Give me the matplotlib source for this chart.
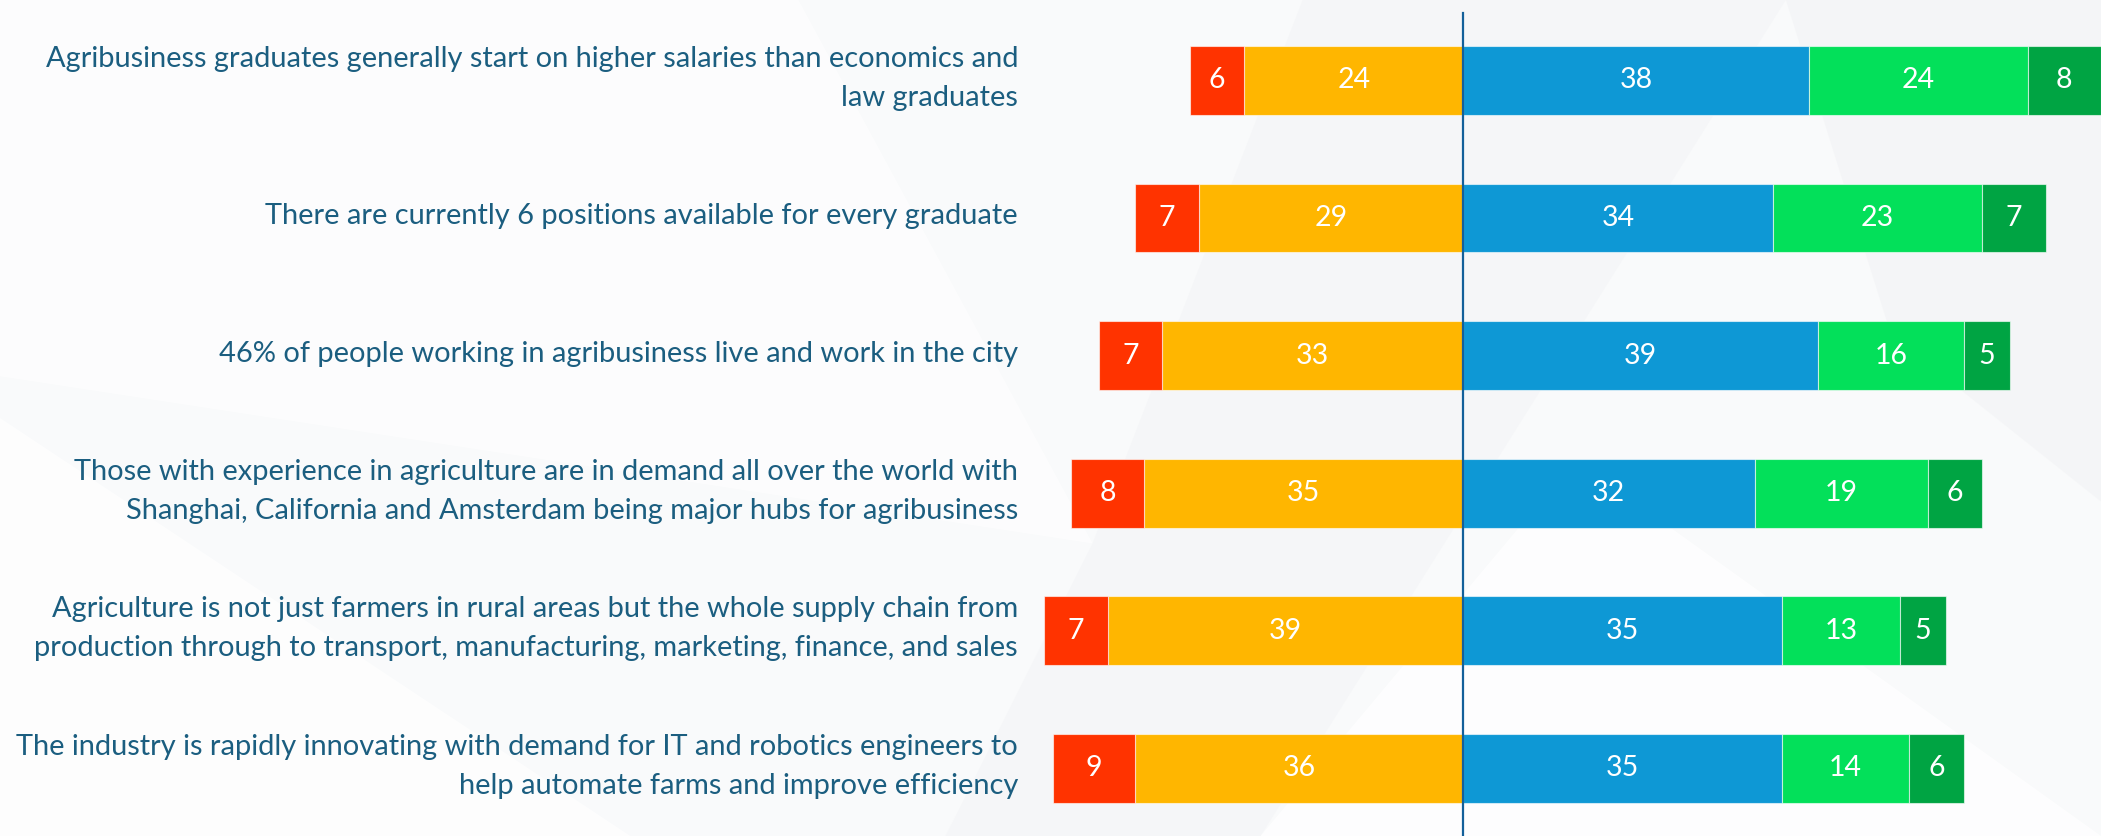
import matplotlib
matplotlib.use("Agg")
import matplotlib.pyplot as plt
from matplotlib.patches import Polygon

categories = [
    "Agribusiness graduates generally start on higher salaries than economics and\nlaw graduates",
    "There are currently 6 positions available for every graduate",
    "46% of people working in agribusiness live and work in the city",
    "Those with experience in agriculture are in demand all over the world with\nShanghai, California and Amsterdam being major hubs for agribusiness",
    "Agriculture is not just farmers in rural areas but the whole supply chain from\nproduction through to transport, manufacturing, marketing, finance, and sales",
    "The industry is rapidly innovating with demand for IT and robotics engineers to\nhelp automate farms and improve efficiency",
]
red_vals = [6, 7, 7, 8, 7, 9]
yellow_vals = [24, 29, 33, 35, 39, 36]
blue_vals = [38, 34, 39, 32, 35, 35]
lgreen_vals = [24, 23, 16, 19, 13, 14]
dgreen_vals = [8, 7, 5, 6, 5, 6]

C_RED = "#FF3300"
C_YEL = "#FFB600"
C_BLU = "#0E98D5"
C_LGR = "#03E05A"
C_DGR = "#00A443"
C_TXT = "#1B5E80"
C_LINE = "#13609A"

fam = ["Lato", "DejaVu Sans"]

fig = plt.figure(figsize=(21.01, 8.36), dpi=100)
fig.patch.set_facecolor("#F9FAFB")
ax = fig.add_axes([0, 0, 1, 1])
ax.set_facecolor("none")
ax.set_xlim(-160.6, 70.03)
ax.set_ylim(5.491, -0.584)
ax.axis("off")

# subtle background facets (decorative)
bg = fig.add_axes([0, 0, 1, 1], zorder=-1)
bg.set_xlim(0, 1); bg.set_ylim(0, 1); bg.axis("off")
polys = [
    ([(0.0, 1.0), (0.38, 1.0), (0.52, 0.35), (0.0, 0.55)], "#FFFFFF", 0.6),
    ([(0.52, 0.35), (0.62, 1.0), (0.85, 1.0), (0.6, 0.0), (0.45, 0.0)], "#F3F4F6", 0.6),
    ([(0.0, 0.0), (0.0, 0.5), (0.3, 0.0)], "#FFFFFF", 0.7),
    ([(0.85, 1.0), (1.0, 1.0), (1.0, 0.4), (0.9, 0.6)], "#F2F3F5", 0.6),
    ([(0.6, 0.0), (0.75, 0.45), (1.0, 0.0)], "#FFFFFF", 0.8),
]
for pts, col, a in polys:
    bg.add_patch(Polygon(pts, closed=True, facecolor=col, edgecolor="none", alpha=a))

ys = list(range(len(categories)))
h = 0.5
ekw = dict(edgecolor=(1, 1, 1, 0.6), linewidth=0.8)
left_yel = [-v for v in yellow_vals]
left_red = [-(r + y) for r, y in zip(red_vals, yellow_vals)]
ax.barh(ys, yellow_vals, left=left_yel, height=h, color=C_YEL, **ekw)
ax.barh(ys, red_vals, left=left_red, height=h, color=C_RED, **ekw)
ax.barh(ys, blue_vals, left=0, height=h, color=C_BLU, **ekw)
lg_left = blue_vals
ax.barh(ys, lgreen_vals, left=lg_left, height=h, color=C_LGR, **ekw)
dg_left = [b + g for b, g in zip(blue_vals, lgreen_vals)]
ax.barh(ys, dgreen_vals, left=dg_left, height=h, color=C_DGR, **ekw)

nkw = dict(ha="center", va="center", color="white", fontsize=20.5, family=fam)
for i in ys:
    ax.text(left_red[i] + red_vals[i] / 2, i, str(red_vals[i]), **nkw)
    ax.text(left_yel[i] + yellow_vals[i] / 2, i, str(yellow_vals[i]), **nkw)
    ax.text(blue_vals[i] / 2, i, str(blue_vals[i]), **nkw)
    ax.text(lg_left[i] + lgreen_vals[i] / 2, i, str(lgreen_vals[i]), **nkw)
    ax.text(dg_left[i] + dgreen_vals[i] / 2, i, str(dgreen_vals[i]), **nkw)

for i, c in enumerate(categories):
    ax.text(-48.85, i - 0.015, c, ha="right", va="center", color=C_TXT, fontsize=20.9,
            family=fam, linespacing=1.62)

ax.plot([0, 0], [-0.49, 5.6], color=C_LINE, lw=1.6, zorder=5, clip_on=False)

fig.savefig("out.png", dpi=100, facecolor=fig.get_facecolor())
